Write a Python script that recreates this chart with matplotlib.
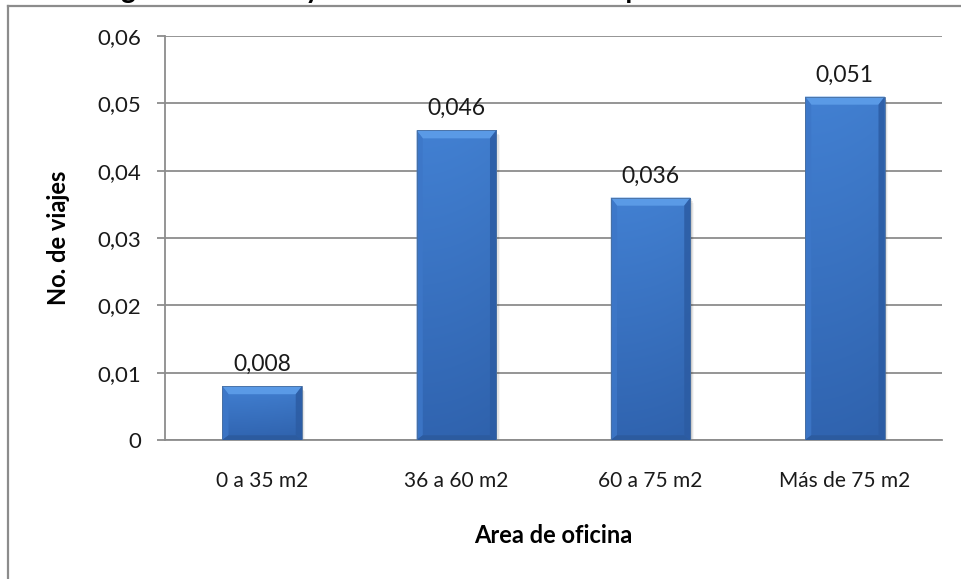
import numpy as np
import matplotlib
matplotlib.use("Agg")
import matplotlib.pyplot as plt
from matplotlib.patches import Polygon, Rectangle
from matplotlib.lines import Line2D

plt.rcParams['font.family'] = ['Lato', 'DejaVu Sans']

categorias = ["0 a 35 m2", "36 a 60 m2", "60 a 75 m2", "Más de 75 m2"]
viajes = [0.008, 0.046, 0.036, 0.051]
etiquetas = ["0,008", "0,046", "0,036", "0,051"]
yticks = [0, 0.01, 0.02, 0.03, 0.04, 0.05, 0.06]
ytick_labels = ["0", "0,01", "0,02", "0,03", "0,04", "0,05", "0,06"]

titulo = "Diagrama de Tasa y Número de Atracciones por Area"

GRIS = "#8c8c8c"
ANCHO = 0.41


def hex_rgb(h):
    h = h.lstrip("#")
    return np.array([int(h[i:i + 2], 16) for i in (0, 2, 4)]) / 255.0


def barra_biselada(ax, x, v, w):
    x0, x1 = x - w / 2, x + w / 2
    # sombra suave
    for k, a in enumerate([0.10, 0.07, 0.04]):
        dx = 0.006 * (k + 1)
        dy = 0.00025 * (k + 1)
        ax.add_patch(Rectangle((x0 + dx, -dy), w, v, facecolor="black",
                               alpha=a, edgecolor="none", zorder=2))
    # cara con degradado
    nx, ny = 60, 120
    prof_x = 1 - 0.35 * np.linspace(0, 1, nx) ** 2
    arriba, abajo = hex_rgb("#4280d2"), hex_rgb("#3064b0")
    t = np.linspace(0, 1, ny)[:, None, None]
    img = arriba * (1 - t) + abajo * t
    img = np.clip(img * (0.93 + 0.07 * prof_x[None, :, None]), 0, 1)
    cuerpo = Rectangle((x0, 0), w, v, facecolor="none", edgecolor="none", zorder=3)
    ax.add_patch(cuerpo)
    im = ax.imshow(img, extent=(x0, x1, 0, v), aspect="auto", zorder=3, interpolation="bilinear")
    im.set_clip_path(cuerpo)
    # biseles
    bx = 0.032
    by = min(0.0012, v / 4)
    byb = min(0.0007, v / 6)
    ax.add_patch(Polygon([(x0, v), (x1, v), (x1 - bx, v - by), (x0 + bx, v - by)],
                         closed=True, facecolor="#5a9ae6", edgecolor="none", zorder=4))
    ax.add_patch(Polygon([(x0, v), (x0 + bx, v - by), (x0 + bx, byb), (x0, 0)],
                         closed=True, facecolor="#3d77c8", edgecolor="none", zorder=4, alpha=0.85))
    ax.add_patch(Polygon([(x1, v), (x1 - bx, v - by), (x1 - bx, byb), (x1, 0)],
                         closed=True, facecolor="#2c5ca3", edgecolor="none", zorder=4, alpha=0.85))
    ax.add_patch(Polygon([(x0, 0), (x1, 0), (x1 - bx, byb), (x0 + bx, byb)],
                         closed=True, facecolor="#2c5b9f", edgecolor="none", zorder=4))
    ax.add_patch(Rectangle((x0, 0), w, v, facecolor="none", edgecolor="#4a6f9f",
                           linewidth=0.6, zorder=5))


fig = plt.figure(figsize=(9.62, 5.79), dpi=100)
ax = fig.add_axes([165 / 962, 1 - 440 / 579, (942 - 165) / 962, (440 - 36) / 579])

pos = np.arange(len(categorias))
for x, v in zip(pos, viajes):
    barra_biselada(ax, x, v, ANCHO)

for x, v, t in zip(pos, viajes, etiquetas):
    ax.annotate(t, (x, v), xytext=(0, 8), textcoords="offset points",
                ha="center", va="bottom", fontsize=16.5, color="#1a1a1a", zorder=6)

ax.set_xlim(-0.5, len(categorias) - 0.5)
ax.set_ylim(0, 0.06)
ax.set_yticks(yticks)
ax.set_yticklabels(ytick_labels)
ax.set_xticks(pos)
ax.set_xticklabels(categorias)
ax.yaxis.grid(True, color=GRIS, linewidth=1.3, zorder=0)
ax.set_axisbelow(True)

for s in ["top", "right"]:
    ax.spines[s].set_visible(False)
for s in ["left", "bottom"]:
    ax.spines[s].set_color(GRIS)
    ax.spines[s].set_linewidth(1.3)

ax.tick_params(axis="y", length=6, width=1.3, color=GRIS, pad=11, labelsize=16, labelcolor="#1a1a1a")
ax.tick_params(axis="x", length=0, pad=22, labelsize=15, labelcolor="#1a1a1a")

ax.set_ylabel("No. de viajes", fontsize=17, fontweight="bold", labelpad=20)
ax.set_xlabel("Area de oficina", fontsize=17, fontweight="bold", labelpad=24)

# marco exterior del gráfico
fig.add_artist(Line2D([8 / 962, 8 / 962], [-0.05, 1 - 6 / 579], transform=fig.transFigure,
                      color=GRIS, linewidth=1.6))
fig.add_artist(Line2D([8 / 962, 1.05], [1 - 6 / 579, 1 - 6 / 579], transform=fig.transFigure,
                      color=GRIS, linewidth=1.6))

# el título queda por encima del borde superior del lienzo
fig.text(79 / 962, 1.003, titulo, ha="left", va="baseline", fontsize=20, fontweight="bold", color="black")

fig.savefig("out.png", dpi=100)
